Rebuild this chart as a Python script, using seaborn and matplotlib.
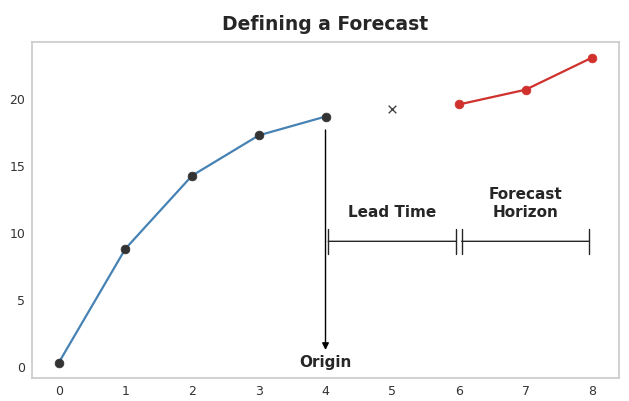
import matplotlib
matplotlib.use("Agg")
import matplotlib.pyplot as plt
import seaborn as sns
import pandas as pd

hist_x = [0, 1, 2, 3, 4]
hist_y = [0.35, 8.85, 14.3, 17.3, 18.7]
gap_x = [5]
gap_y = [19.3]
fc_x = [6, 7, 8]
fc_y = [19.6, 20.7, 23.1]
xticks = [0, 1, 2, 3, 4, 5, 6, 7, 8]
yticks = [0, 5, 10, 15, 20]

sns.set_theme(style="whitegrid")
plt.rcParams['axes.grid'] = False

fig, ax = plt.subplots(figsize=(6.29, 4.01), dpi=100)

hist = pd.DataFrame({"t": hist_x, "y": hist_y})
fc = pd.DataFrame({"t": fc_x, "y": fc_y})

sns.lineplot(data=hist, x="t", y="y", ax=ax, color="#4682b4", linewidth=1.6, zorder=2)
sns.scatterplot(data=hist, x="t", y="y", ax=ax, color="#333333", s=40, edgecolor="#333333", zorder=3)
sns.lineplot(data=fc, x="t", y="y", ax=ax, color="#d0312d", linewidth=1.6, zorder=2)
sns.scatterplot(data=fc, x="t", y="y", ax=ax, color="#d0312d", s=40, edgecolor="#d0312d", zorder=3)
ax.scatter(gap_x, gap_y, marker="x", color="#444444", s=30, linewidths=1)

# origin arrow
ax.annotate("", xy=(4, 1.3), xytext=(4, 17.7),
            arrowprops=dict(arrowstyle="-|>", color="black", lw=1, mutation_scale=10,
                            shrinkA=0, shrinkB=0))
ax.text(4, 0.35, "Origin", ha="center", va="center", fontsize=11, fontweight="bold", color="#262626")

# lead time & horizon
ax.annotate("", xy=(4, 9.4), xytext=(6, 9.4),
            arrowprops=dict(arrowstyle="|-|", color="#262626", lw=1, mutation_scale=9))
ax.annotate("", xy=(6, 9.4), xytext=(8, 9.4),
            arrowprops=dict(arrowstyle="|-|", color="#262626", lw=1, mutation_scale=9))
ax.text(5, 11.0, "Lead Time", ha="center", va="bottom", fontsize=11, fontweight="bold", color="#262626")
ax.text(7, 11.0, "Forecast\nHorizon", ha="center", va="bottom", fontsize=11, fontweight="bold",
        color="#262626", linespacing=1.25)

ax.set_xticks(xticks)
ax.set_yticks(yticks)
ax.set_xlabel("")
ax.set_ylabel("")
ax.set_xlim(-0.4, 8.4)
ax.set_ylim(-0.8, 24.25)
ax.tick_params(labelsize=9, length=0, pad=5, labelcolor="#333333")
ax.set_title("Defining a Forecast", fontsize=13.5, fontweight="bold", color="#262626", pad=9)

fig.subplots_adjust(left=0.051, right=0.984, top=0.895, bottom=0.057)
fig.savefig("out.png", dpi=100)
